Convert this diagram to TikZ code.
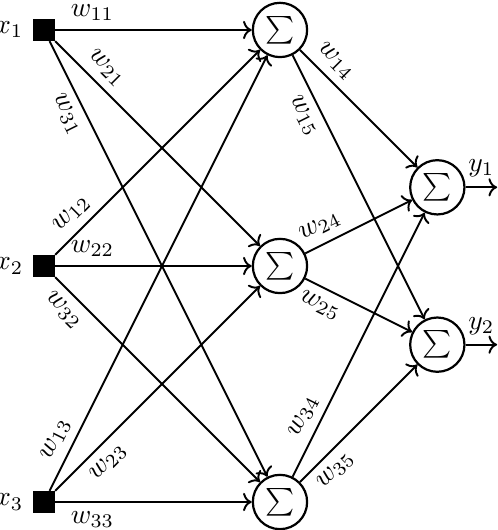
\documentclass[tikz,border=0pt]{standalone}
\usepackage{amsmath,amssymb}
\usepackage{tikz}
\usetikzlibrary{arrows.meta,positioning}
\tikzset{
  inbox/.style={draw,fill=black,minimum size=0.27cm,inner sep=0pt},
  sumnode/.style={draw,circle,line width=0.8pt,minimum size=0.69cm,inner sep=0pt},
  arr/.style={->,line width=0.7pt},
  wlbl/.style={sloped,inner sep=3pt},
  xlbl/.style={inner sep=1pt},
}

\begin{document}
\begin{tikzpicture}[x=1cm,y=1cm]
    \useasboundingbox (-0.559,-6.356) rectangle (5.771,0.381);
    % inputs
    \node[inbox] (in1) at (0,0)  {};
    \node[inbox] (in2) at (0,-3) {};
    \node[inbox] (in3) at (0,-6) {};
    \node[xlbl,left=2.2pt of in1] (lx1) {$x_1$};
    \node[xlbl,left=2.2pt of in2] (lx2) {$x_2$};
    \node[xlbl,left=2.2pt of in3] (lx3) {$x_3$};
    % hidden and output sums
    \node[sumnode] (h1) at (3,0)  {$\sum$};
    \node[sumnode] (h2) at (3,-3) {$\sum$};
    \node[sumnode] (h3) at (3,-6) {$\sum$};
    \node[sumnode] (o1) at (5,-2) {$\sum$};
    \node[sumnode] (o2) at (5,-4) {$\sum$};
    \coordinate (out1) at (5.76,-2);
    \coordinate (out2) at (5.76,-4);
    \draw[arr] (in1) -- node[wlbl,above,pos=0.19]{$w_{11}$} (h1);
    \draw[arr] (in1) -- node[wlbl,above,pos=0.19]{$w_{21}$} (h2);
    \draw[arr] (in1) -- node[wlbl,below,pos=0.15]{$w_{31}$} (h3);
    \draw[arr] (in2) -- node[wlbl,above,pos=0.14]{$w_{12}$} (h1);
    \draw[arr] (in2) -- node[wlbl,above,pos=0.19]{$w_{22}$} (h2);
    \draw[arr] (in2) -- node[wlbl,below,pos=0.10]{$w_{32}$} (h3);
    \draw[arr] (in3) -- node[wlbl,above,pos=0.10]{$w_{13}$} (h1);
    \draw[arr] (in3) -- node[wlbl,below,pos=0.20]{$w_{23}$} (h2);
    \draw[arr] (in3) -- node[wlbl,below,pos=0.19]{$w_{33}$} (h3);
    \draw[arr] (h1) -- node[wlbl,above,pos=0.20]{$w_{14}$} (o1);
    \draw[arr] (h1) -- node[wlbl,below,pos=0.20]{$w_{15}$} (o2);
    \draw[arr] (h2) -- node[wlbl,above,pos=0.21]{$w_{24}$} (o1);
    \draw[arr] (h2) -- node[wlbl,below,pos=0.21]{$w_{25}$} (o2);
    \draw[arr] (h3) -- node[wlbl,above,pos=0.20]{$w_{34}$} (o1);
    \draw[arr] (h3) -- node[wlbl,below,pos=0.20]{$w_{35}$} (o2);
    \draw[arr] (o1) -- node[above]{$y_1$} (out1);
    \draw[arr] (o2) -- node[above]{$y_2$} (out2);
\end{tikzpicture}
\end{document}
